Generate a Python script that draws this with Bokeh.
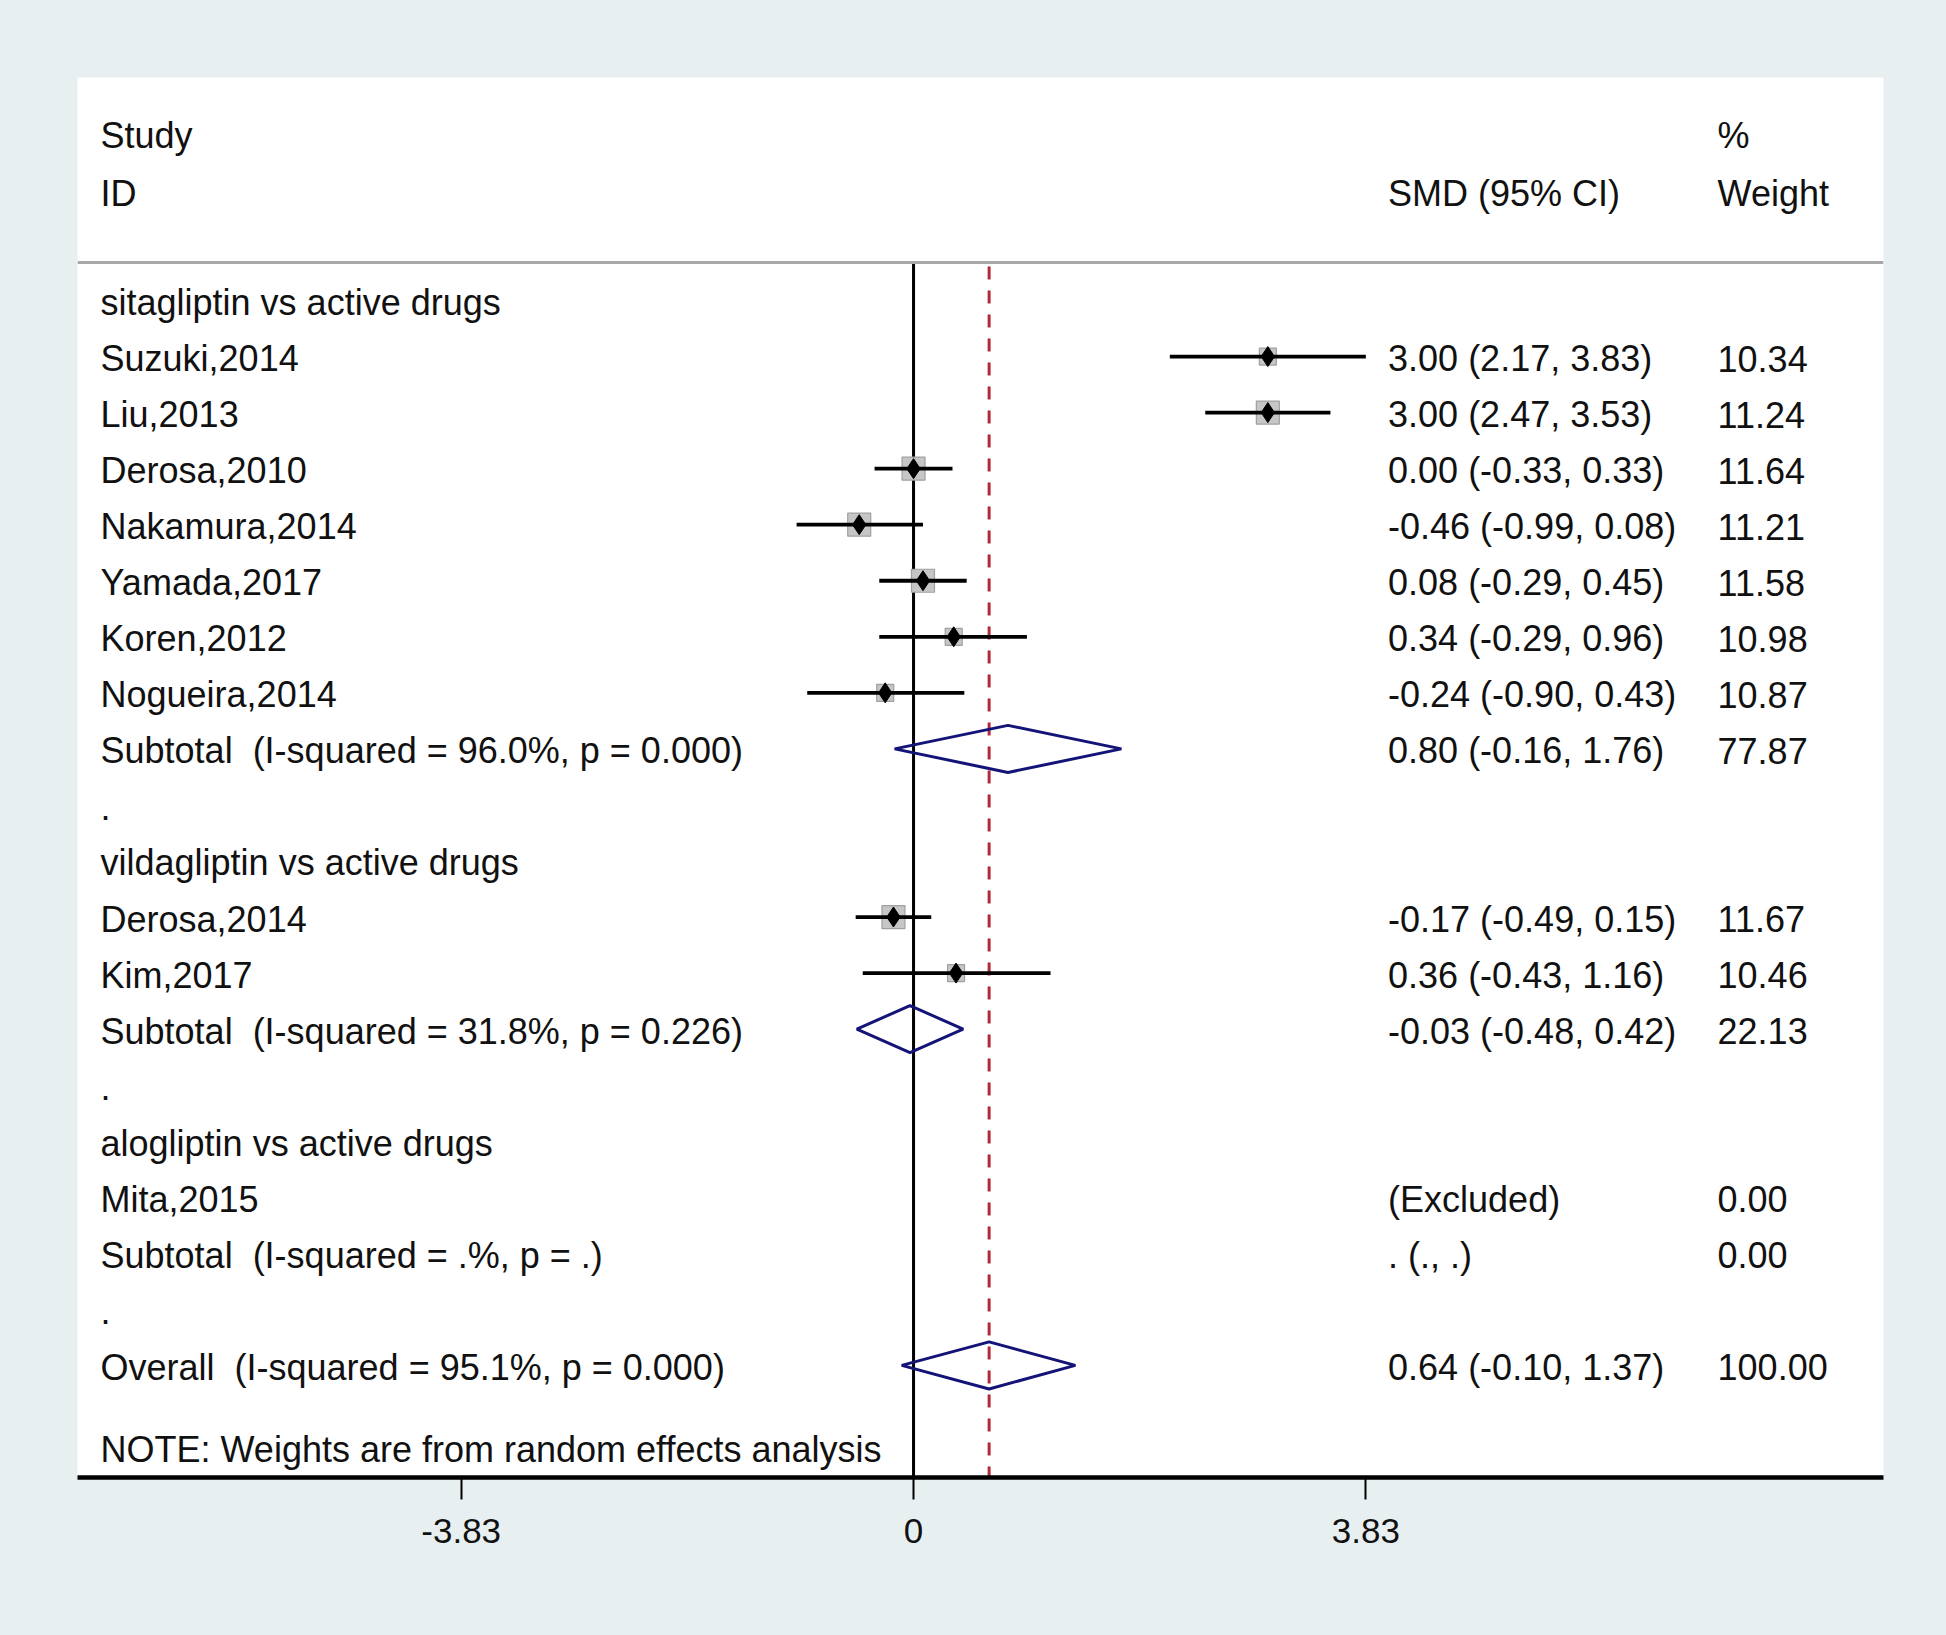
import numpy as np
from bokeh.plotting import figure
from bokeh.models import Range1d, ColumnDataSource, FixedTicker, Span
from bokeh.embed import file_html
from bokeh.resources import INLINE
from bokeh.core.properties import value

# ---------------- data ----------------
groups = ["sitagliptin vs active drugs", "vildagliptin vs active drugs", "alogliptin vs active drugs"]
group_sizes = [7, 2, 1]
studies = ["Suzuki,2014", "Liu,2013", "Derosa,2010", "Nakamura,2014", "Yamada,2017",
           "Koren,2012", "Nogueira,2014", "Derosa,2014", "Kim,2017", "Mita,2015"]
est = [3.00, 3.00, 0.00, -0.46, 0.08, 0.34, -0.24, -0.17, 0.36, np.nan]
ci_lo = [2.17, 2.47, -0.33, -0.99, -0.29, -0.29, -0.90, -0.49, -0.43, np.nan]
ci_hi = [3.83, 3.53, 0.33, 0.08, 0.45, 0.96, 0.43, 0.15, 1.16, np.nan]
weight = [10.34, 11.24, 11.64, 11.21, 11.58, 10.98, 10.87, 11.67, 10.46, 0.00]

sub_het = ["I-squared = 96.0%, p = 0.000", "I-squared = 31.8%, p = 0.226", "I-squared = .%, p = ."]
sub_est = [0.80, -0.03, np.nan]
sub_lo = [-0.16, -0.48, np.nan]
sub_hi = [1.76, 0.42, np.nan]
sub_weight = [77.87, 22.13, 0.00]

overall_het = "I-squared = 95.1%, p = 0.000"
overall_est = 0.64
overall_lo = -0.10
overall_hi = 1.37
overall_weight = 100.00

xticks = [-3.83, 0, 3.83]
xtick_labels = ["-3.83", "0", "3.83"]

# ---------------- layout constants ----------------
BG = "#e8eff1"
FONT = value("Liberation Sans")
FS = "36px"
TXT = "#111111"
X_LABEL = -6.884
X_SMD = 4.018
X_W = 6.808
HALF_H = 0.42
GAP = "\u00a0 "


def fmt_ci(e, l, h):
    if np.isnan(e):
        return ". (., .)"
    return f"{e:.2f} ({l:.2f}, {h:.2f})"


# build rows
lab_y, lab_t = [], []
smd_y, smd_t, w_y, w_t = [], [], [], []
st_r, st_e, st_l, st_h, st_w = [], [], [], [], []
dia_xs, dia_ys = [], []

r = 0
k = 0
for g, n in enumerate(group_sizes):
    lab_y.append(r); lab_t.append(groups[g]); r += 1
    for _ in range(n):
        lab_y.append(r); lab_t.append(studies[k])
        if np.isnan(est[k]):
            smd_t.append("(Excluded)")
        else:
            smd_t.append(fmt_ci(est[k], ci_lo[k], ci_hi[k]))
            st_r.append(r); st_e.append(est[k]); st_l.append(ci_lo[k]); st_h.append(ci_hi[k]); st_w.append(weight[k])
        smd_y.append(r)
        w_y.append(r); w_t.append(f"{weight[k]:.2f}")
        k += 1; r += 1
    lab_y.append(r); lab_t.append("Subtotal" + GAP + "(" + sub_het[g] + ")")
    smd_y.append(r); smd_t.append(fmt_ci(sub_est[g], sub_lo[g], sub_hi[g]))
    w_y.append(r); w_t.append(f"{sub_weight[g]:.2f}")
    if not np.isnan(sub_est[g]):
        dia_xs.append([sub_lo[g], sub_est[g], sub_hi[g], sub_est[g]])
        dia_ys.append([r, r - HALF_H, r, r + HALF_H])
    r += 1
    lab_y.append(r); lab_t.append("."); r += 1

lab_y.append(r); lab_t.append("Overall" + GAP + "(" + overall_het + ")")
smd_y.append(r); smd_t.append(fmt_ci(overall_est, overall_lo, overall_hi))
w_y.append(r); w_t.append(f"{overall_weight:.2f}")
dia_xs.append([overall_lo, overall_est, overall_hi, overall_est])
dia_ys.append([r, r - HALF_H, r, r + HALF_H])
note_row = r + 1.46

# ---------------- figure ----------------
W, H = 1930, 1619
p = figure(width=W, height=H, x_range=Range1d(-7.079, 8.213), y_range=Range1d(21.0, -3.979),
           output_backend="svg", toolbar_location=None, y_axis_location=None,
           min_border_left=77, min_border_right=47, min_border_top=77, min_border_bottom=142)
p.background_fill_color = "white"
p.border_fill_color = BG
p.outline_line_color = None
p.grid.visible = False

ax = p.xaxis[0]
ax.ticker = FixedTicker(ticks=xticks)
ax.major_label_overrides = {t: l for t, l in zip(xticks, xtick_labels)}
ax.axis_line_width = 4.5
ax.axis_line_color = "black"
ax.major_tick_in = 0
ax.major_tick_out = 22
ax.major_tick_line_width = 2
ax.major_tick_line_color = "black"
ax.minor_tick_line_color = None
ax.major_label_text_font = "Liberation Sans"
ax.major_label_text_font_size = "35px"
ax.major_label_text_color = TXT
ax.major_label_standoff = 19

# header separator
p.add_layout(Span(location=-0.678, dimension="width", line_color="#a8a8a8", line_width=3))

# reference lines
p.segment(x0=[0], y0=[-0.66], x1=[0], y1=[21.0], line_color="black", line_width=3)
p.segment(x0=[overall_est], y0=[-0.607], x1=[overall_est], y1=[21.0], line_color="#b02a3a",
          line_width=3, line_dash="13 11")

# study CIs, boxes and points
box = [23 if w > 11.1 else 17 for w in st_w]
src = ColumnDataSource(dict(r=st_r, e=st_e, l=st_l, h=st_h, box=box))
p.scatter(x="e", y="r", size="box", marker="square", source=src,
          fill_color="#c6c6c6", line_color="#a0a0a0", line_width=1.2)
p.segment(x0="l", y0="r", x1="h", y1="r", source=src, line_color="black", line_width=3.8)
p.scatter(x="e", y="r", size=20, marker="diamond", source=src,
          fill_color="black", line_color="black", line_width=1)

# pooled diamonds
p.patches(xs=dia_xs, ys=dia_ys, fill_alpha=0, line_color="#141478", line_width=3)

# texts
common = dict(text_font=FONT, text_font_size=FS, text_baseline="middle", text_align="left",
              text_color=TXT, y_offset=2)
p.text(x=[X_LABEL] * len(lab_y), y=lab_y, text=lab_t, **common)
p.text(x=[X_SMD] * len(smd_y), y=smd_y, text=smd_t, **common)
p.text(x=[X_W] * len(w_y), y=w_y, text=w_t, **common)

# headers and note
p.text(x=[X_LABEL, X_LABEL, X_SMD, X_W, X_W], y=[-2.98, -1.945, -1.945, -2.98, -1.945],
       text=["Study", "ID", "SMD (95% CI)", "%", "Weight"], **common)
p.text(x=[X_LABEL], y=[note_row], text=["NOTE: Weights are from random effects analysis"], **common)

html = file_html(p, INLINE)
html = html.replace("<head>", "<head><style>html, body { background: " + BG + "; }</style>", 1)
open("out.html", "w").write(html)
